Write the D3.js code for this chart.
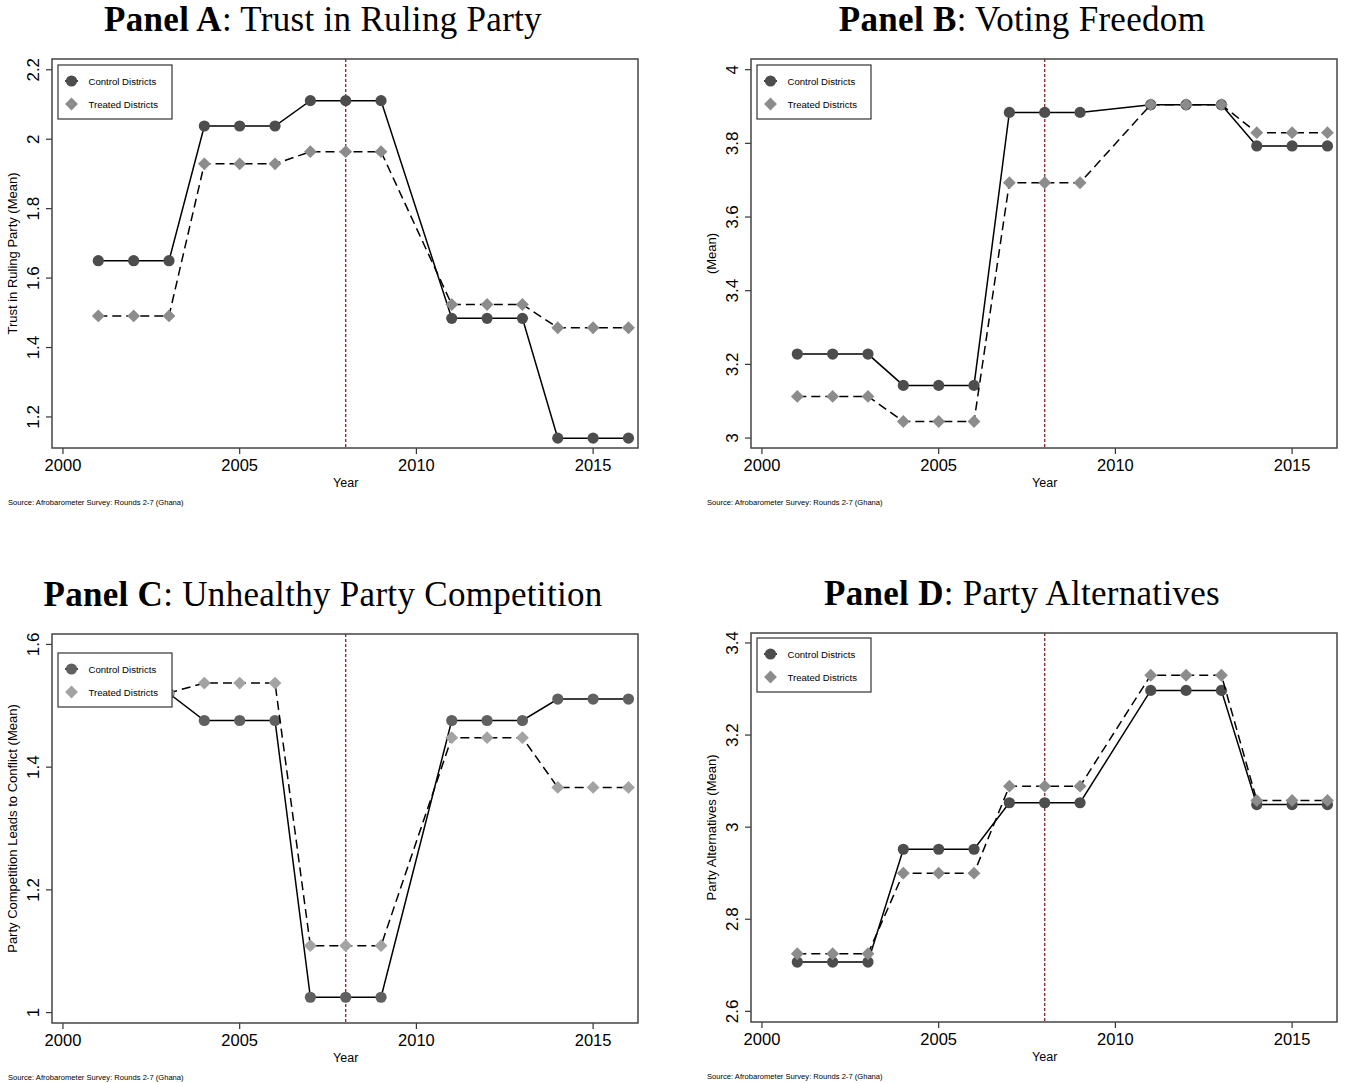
<!DOCTYPE html>
<html>
<head>
<meta charset="utf-8">
<script src="https://cdn.jsdelivr.net/npm/d3@7"></script>
<style>
  body { margin: 0; background: #fff; }
  svg { display: block; }
</style>
</head>
<body>
<svg width="1349" height="1083"></svg>
<script>
// survey years (no round in 2010)
var years = [2001, 2002, 2003, 2004, 2005, 2006, 2007, 2008, 2009, 2011, 2012, 2013, 2014, 2015, 2016];
var xTicks = [2000, 2005, 2010, 2015];
var treatYear = 2008;

// Panel A: trust in ruling party
var trustControl = [1.65, 1.65, 1.65, 2.038, 2.038, 2.038, 2.111, 2.111, 2.111, 1.484, 1.484, 1.484, 1.139, 1.139, 1.139];
var trustTreated = [1.491, 1.491, 1.491, 1.929, 1.929, 1.929, 1.964, 1.964, 1.964, 1.524, 1.524, 1.524, 1.457, 1.457, 1.457];
var trustTicks = [1.2, 1.4, 1.6, 1.8, 2, 2.2];

// Panel B: voting freedom
var voteControl = [3.228, 3.228, 3.228, 3.143, 3.143, 3.143, 3.884, 3.884, 3.884, 3.905, 3.905, 3.905, 3.793, 3.793, 3.793];
var voteTreated = [3.113, 3.113, 3.113, 3.045, 3.045, 3.045, 3.693, 3.693, 3.693, 3.905, 3.905, 3.905, 3.829, 3.829, 3.829];
var voteTicks = [3, 3.2, 3.4, 3.6, 3.8, 4];

// Panel C: unhealthy party competition
var compControl = [1.52, 1.52, 1.52, 1.476, 1.476, 1.476, 1.025, 1.025, 1.025, 1.476, 1.476, 1.476, 1.511, 1.511, 1.511];
var compTreated = [1.521, 1.521, 1.521, 1.537, 1.537, 1.537, 1.109, 1.109, 1.109, 1.448, 1.448, 1.448, 1.367, 1.367, 1.367];
var compTicks = [1, 1.2, 1.4, 1.6];

// Panel D: party alternatives
var altControl = [2.707, 2.707, 2.707, 2.952, 2.952, 2.952, 3.053, 3.053, 3.053, 3.297, 3.297, 3.297, 3.049, 3.049, 3.049];
var altTreated = [2.725, 2.725, 2.725, 2.9, 2.9, 2.9, 3.089, 3.089, 3.089, 3.33, 3.33, 3.33, 3.058, 3.058, 3.058];
var altTicks = [2.6, 2.8, 3, 3.2, 3.4];

var source = "Source: Afrobarometer Survey: Rounds 2-7 (Ghana)";

var svg = d3.select("svg");
var sans = "'Liberation Sans', Arial, Helvetica, sans-serif";
var serif = "'Liberation Serif', 'Times New Roman', serif";

function drawPanel(p) {
    var g = svg.append("g").attr("transform", "translate(" + p.left + "," + p.top + ")");
    var w = 586, h = 389;

    var x = d3.scaleLinear().domain([1999.69, 2016.27]).range([0, w]);
    var y = d3.scaleLinear().domain(p.yDomain).range([h, 0]);

    // title
    var t = svg.append("text")
        .attr("x", p.left + 271)
        .attr("y", p.top - 28)
        .attr("text-anchor", "middle")
        .attr("font-family", serif)
        .attr("font-size", 35)
        .attr("letter-spacing", 0.3)
        .attr("fill", "#000");
    t.append("tspan").attr("font-weight", "bold").text(p.label);
    t.append("tspan").text(": " + p.title);

    // y ticks
    g.selectAll(".ytick").data(p.ticks).enter().append("line")
        .attr("x1", -6).attr("x2", 0)
        .attr("y1", function(d){ return y(d); })
        .attr("y2", function(d){ return y(d); })
        .attr("stroke", "#333").attr("stroke-width", 1.2);
    g.selectAll(".ylab").data(p.ticks).enter().append("text")
        .attr("transform", function(d){ return "translate(-13," + y(d) + ")rotate(-90)"; })
        .attr("text-anchor", "middle")
        .attr("font-family", sans).attr("font-size", 17)
        .text(function(d){ return d3.format("~g")(d); });

    // x ticks
    g.selectAll(".xtick").data(xTicks).enter().append("line")
        .attr("x1", function(d){ return x(d); })
        .attr("x2", function(d){ return x(d); })
        .attr("y1", h).attr("y2", h + 6)
        .attr("stroke", "#333").attr("stroke-width", 1.2);
    g.selectAll(".xlab").data(xTicks).enter().append("text")
        .attr("x", function(d){ return x(d); })
        .attr("y", h + 23)
        .attr("text-anchor", "middle")
        .attr("font-family", sans).attr("font-size", 16.5)
        .text(function(d){ return d; });

    g.append("text")
        .attr("x", x(2008)).attr("y", h + 39)
        .attr("text-anchor", "middle")
        .attr("font-family", sans).attr("font-size", 12.5)
        .text("Year");

    g.append("text")
        .attr("transform", "translate(" + (p.yTitleX - p.left) + "," + (h / 2) + ")rotate(-90)")
        .attr("text-anchor", "middle")
        .attr("font-family", sans).attr("font-size", 13)
        .text(p.yTitle);

    svg.append("text")
        .attr("x", p.left - 44).attr("y", p.top + h + 57)
        .attr("font-family", sans).attr("font-size", 7.6)
        .text(source);

    // treatment year
    g.append("line")
        .attr("x1", x(treatYear)).attr("x2", x(treatYear))
        .attr("y1", 0).attr("y2", h)
        .attr("stroke", "#8b2323").attr("stroke-width", 1.3)
        .attr("stroke-dasharray", "3,2");

    var pts = function(vals){ return years.map(function(yr, i){ return [yr, vals[i]]; }); };
    var line = d3.line().x(function(d){ return x(d[0]); }).y(function(d){ return y(d[1]); });

    // control
    g.append("path").datum(pts(p.control))
        .attr("d", line).attr("fill", "none")
        .attr("stroke", "#000").attr("stroke-width", 1.5);
    g.selectAll(".cpt").data(pts(p.control)).enter().append("circle")
        .attr("cx", function(d){ return x(d[0]); })
        .attr("cy", function(d){ return y(d[1]); })
        .attr("r", 5.6).attr("fill", p.cColor);

    // treated
    g.append("path").datum(pts(p.treated))
        .attr("d", line).attr("fill", "none")
        .attr("stroke", "#000").attr("stroke-width", 1.5)
        .attr("stroke-dasharray", "9,5");
    var diamond = d3.symbol().type(d3.symbolDiamond2).size(105);
    g.selectAll(".tpt").data(pts(p.treated)).enter().append("path")
        .attr("transform", function(d){ return "translate(" + x(d[0]) + "," + y(d[1]) + ")"; })
        .attr("d", diamond).attr("fill", p.tColor);

    // legend
    var lg = g.append("g").attr("transform", "translate(6," + p.legY + ")");
    lg.append("rect").attr("width", 114).attr("height", 54)
        .attr("fill", "#fff").attr("stroke", "#333").attr("stroke-width", 1.2);
    lg.append("line").attr("x1", 7).attr("x2", 20).attr("y1", 16).attr("y2", 16)
        .attr("stroke", "#000").attr("stroke-width", 1.5);
    lg.append("circle").attr("cx", 13.5).attr("cy", 16).attr("r", 5.6).attr("fill", p.cColor);
    lg.append("path").attr("transform", "translate(13.5,39)").attr("d", diamond).attr("fill", p.tColor);
    lg.append("text").attr("x", 30.5).attr("y", 19.5)
        .attr("font-family", sans).attr("font-size", 9.6).text("Control Districts");
    lg.append("text").attr("x", 30.5).attr("y", 42.5)
        .attr("font-family", sans).attr("font-size", 9.6).text("Treated Districts");

    // frame
    g.append("rect").attr("width", w).attr("height", h)
        .attr("fill", "none").attr("stroke", "#444").attr("stroke-width", 1.5);
}

drawPanel({ left: 52, top: 59, label: "Panel A", title: "Trust in Ruling Party",
    yDomain: [1.1106, 2.231], ticks: trustTicks, yTitle: "Trust in Ruling Party (Mean)", yTitleX: 17,
    control: trustControl, treated: trustTreated, cColor: "#4d4d4d", tColor: "#8c8c8c", legY: 6 });

drawPanel({ left: 751, top: 59, label: "Panel B", title: "Voting Freedom",
    yDomain: [2.973, 4.029], ticks: voteTicks, yTitle: "(Mean)", yTitleX: 716,
    control: voteControl, treated: voteTreated, cColor: "#4d4d4d", tColor: "#8c8c8c", legY: 6 });

drawPanel({ left: 52, top: 634, label: "Panel C", title: "Unhealthy Party Competition",
    yDomain: [0.983, 1.617], ticks: compTicks, yTitle: "Party Competition Leads to Conflict (Mean)", yTitleX: 17,
    control: compControl, treated: compTreated, cColor: "#606060", tColor: "#a3a3a3", legY: 19 });

drawPanel({ left: 751, top: 633, label: "Panel D", title: "Party Alternatives",
    yDomain: [2.5768, 3.4217], ticks: altTicks, yTitle: "Party Alternatives (Mean)", yTitleX: 716,
    control: altControl, treated: altTreated, cColor: "#4d4d4d", tColor: "#8c8c8c", legY: 5 });
</script>
</body>
</html>
